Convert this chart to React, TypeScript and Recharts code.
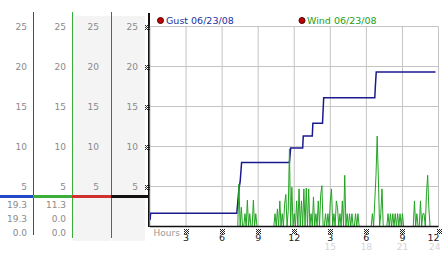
import React from "react";
import { LineChart, Line, XAxis, YAxis, CartesianGrid } from "recharts";

const HOUR_TICKS = [3, 6, 9, 12, 15, 18, 21, 24];
const HOUR_LABELS = ["3", "6", "9", "12", "3", "6", "9", "12"];
const HOUR_LABELS_24 = ["", "", "", "", "15", "18", "21", "24"];
const SPEED_TICKS = [5, 10, 15, 20, 25];
const SIDE_AXES = ["r", "w", "g"];

// gust (step-like running max)
const gustHours = [0, 0.05, 7.22, 7.4, 7.5, 7.62, 11.6, 11.7, 12.7, 12.75, 13.5, 13.55, 14.35, 14.4, 14.45, 18.7, 18.75, 18.82, 23.75];
const gustValues = [0.8, 1.65, 1.65, 4.7, 5.6, 8.0, 8.0, 9.8, 9.8, 11.3, 11.3, 12.9, 12.9, 14.5, 16.1, 16.1, 17.6, 19.3, 19.3];

// wind, one reading every 6 minutes from 00:00
const windValues = [
  0, 0, 0, 0, 0, 0, 0, 0, 0, 0,
  0, 0, 0, 0, 0, 0, 0, 0, 0, 0,
  0, 0, 0, 0, 0, 0, 0, 0, 0, 0,
  0, 0, 0, 0, 0, 0, 0, 0, 0, 0,
  0, 0, 0, 0, 0, 0, 0, 0, 0, 0,
  0, 0, 0, 0, 0, 0, 0, 0, 0, 0,
  0, 0, 0, 0, 0, 0, 0, 0, 0, 0,
  0, 0, 0, 0, 5.3, 0, 2.4, 0, 0, 1.6,
  0, 3.3, 0, 1.6, 0, 0, 3.3, 0, 1.6, 0,
  0, 0, 0, 0, 0, 0, 0, 0, 0, 0,
  0, 0, 0, 0, 1.6, 0, 2.2, 0, 3.2, 0,
  1.6, 0, 2.8, 4.0, 0, 2.0, 9.7, 0, 4.9, 0,
  1.6, 0, 3.2, 0, 4.7, 0, 3.2, 0, 4.7, 0,
  4.8, 0, 4.7, 0, 1.6, 0, 3.7, 0, 1.6, 0,
  3.2, 0, 4.0, 5.1, 0, 0, 1.6, 0, 1.6, 0,
  3.2, 4.7, 0, 1.6, 0, 3.2, 2.4, 0, 1.6, 0,
  3.2, 0, 6.4, 0, 1.6, 0, 1.6, 0, 1.6, 0,
  0, 1.6, 0, 1.6, 0, 0, 0, 0, 0, 0,
  0, 0, 0, 0, 0, 1.6, 0, 3.2, 6.4, 11.3,
  5.8, 0, 1.6, 4.7, 0, 0, 0, 0, 1.6, 0,
  1.6, 0, 1.6, 0, 1.6, 0, 1.6, 0, 1.6, 0,
  1.6, 0, 0, 0, 0, 0, 0, 0, 0, 0,
  3.2, 0, 1.6, 0, 0, 3.2, 0, 1.6, 1.6, 0,
  4.1, 6.4, 2.2, 0, 0, 0, 0,
];

const gustStats = ["19.3", "19.3", "0.0"];
const windStats = ["11.3", "0.0", "0.0"];

const gustData = gustHours.map((h, i) => ({ hour: h, gust: gustValues[i] }));
const windData = windValues.map((v, i) => ({ hour: i / 10, wind: v }));

const FONT = "DejaVu Sans";
const GRAY = "#8a8a8a";
const BLUE = "#2348c8";
const GREEN = "#3aae3a";
const RED = "#d03030";

// little hatched tick mark
const MARK_PIXELS = [
  [0, 0], [2, 0], [4, 0], [1, 1], [3, 1], [0, 2], [2, 2],
  [4, 2], [1, 3], [3, 3], [0, 4], [2, 4], [4, 4],
];

const Mark = ({ x, y }: { x: number; y: number }) => (
  <g fill="#222">
    {MARK_PIXELS.map(([dx, dy], i) => (
      <rect key={i} x={x + dx} y={y + dy} width={1} height={1} />
    ))}
  </g>
);

const SideTick = (props: any) => {
  const { x, y, payload } = props;
  return (
    <text x={x - 12} y={y + 3.5} textAnchor="end" fill={GRAY} fontSize={9} fontFamily={FONT}>
      {payload.value}
    </text>
  );
};

const MainTick = (props: any) => {
  const { x, y, payload } = props;
  return (
    <g>
      <text x={x - 12} y={y + 3.5} textAnchor="end" fill={GRAY} fontSize={9} fontFamily={FONT}>
        {payload.value}
      </text>
      <Mark x={Math.round(x) - 5} y={Math.round(y) - 2} />
    </g>
  );
};

const HourTick = (props: any) => {
  const { x, y, payload } = props;
  const i = HOUR_TICKS.indexOf(payload.value);
  const last = i === HOUR_TICKS.length - 1;
  const cx = Math.round(x);
  return (
    <g>
      <Mark x={cx - 2} y={Math.round(y) + 2} />
      <text x={last ? x + 1 : x} y={y + 14.5} textAnchor={last ? "end" : "middle"} fill="#222" fontSize={9.5} fontFamily={FONT}>
        {HOUR_LABELS[i]}
      </text>
      <text x={last ? x + 2 : x} y={y + 23} textAnchor={last ? "end" : "middle"} fill="#d4d4d4" fontSize={9} fontFamily={FONT}>
        {HOUR_LABELS_24[i]}
      </text>
    </g>
  );
};

function Panel() {
  return (
    <svg width={442} height={253} style={{ position: "absolute", left: 0, top: 0 }}>
      <rect x={73} y={16} width={38} height={225} fill="#f4f4f4" />
      <rect x={112} y={16} width={33} height={225} fill="#f4f4f4" />
      <line x1={33.5} x2={33.5} y1={12} y2={235} stroke={BLUE} />
      <line x1={72.5} x2={72.5} y1={12} y2={238} stroke={GREEN} />
      <line x1={111.5} x2={111.5} y1={12} y2={238} stroke={RED} />
      <line x1={149} x2={149} y1={13} y2={227} stroke="#111" strokeWidth={2} />
      <line x1={0} x2={33} y1={196.5} y2={196.5} stroke={BLUE} strokeWidth={3} />
      <line x1={33} x2={72} y1={196.5} y2={196.5} stroke={GREEN} strokeWidth={3} />
      <line x1={72} x2={111} y1={196.5} y2={196.5} stroke={RED} strokeWidth={3} />
      <line x1={111} x2={150} y1={196.5} y2={196.5} stroke="#111" strokeWidth={3} />
      {gustStats.map((s, i) => (
        <text key={"g" + i} x={27} y={207.5 + i * 14} textAnchor="end" fill={GRAY} fontSize={9} fontFamily={FONT}>
          {s}
        </text>
      ))}
      {windStats.map((s, i) => (
        <text key={"w" + i} x={66} y={207.5 + i * 14} textAnchor="end" fill={GRAY} fontSize={9} fontFamily={FONT}>
          {s}
        </text>
      ))}
      <text x={153.5} y={235.5} fill="#999" fontSize={9} fontFamily={FONT}>
        Hours
      </text>
      <circle cx={160.5} cy={20.5} r={3} fill="#c00000" stroke="#500000" />
      <text x={166} y={24} fill="#2030a0" fontSize={9.5} fontFamily={FONT}>
        Gust 06/23/08
      </text>
      <circle cx={302} cy={20.5} r={3} fill="#c00000" stroke="#500000" />
      <text x={307} y={24} fill="#20a020" fontSize={9.5} fontFamily={FONT}>
        Wind 06/23/08
      </text>
    </svg>
  );
}

export default function App() {
  return (
    <div style={{ position: "absolute", left: 0, top: 0, width: 442, height: 253, background: "#fff" }}>
      <Panel />
      <div style={{ position: "absolute", left: 0, top: 0 }}>
        <LineChart width={442} height={253} margin={{ top: 26.5, right: 3.5, bottom: 0, left: 0 }}>
          <CartesianGrid stroke="#c4c4c4" />
          <XAxis
            dataKey="hour"
            type="number"
            domain={[0, 24]}
            ticks={HOUR_TICKS}
            height={26.5}
            tickLine={false}
            tickSize={0}
            tickMargin={0}
            axisLine={{ stroke: "#111", strokeWidth: 1.5 }}
            tick={<HourTick />}
            interval={0}
            allowDataOverflow
          />
          <YAxis type="number" domain={[0, 25]} ticks={SPEED_TICKS} width={39} axisLine={false} tickLine={false} tickSize={0} tickMargin={0} tick={<MainTick />} interval={0} />
          {SIDE_AXES.map((id) => (
            <YAxis key={id} yAxisId={id} type="number" domain={[0, 25]} ticks={SPEED_TICKS} width={id === "g" ? 33 : 39} axisLine={false} tickLine={false} tickSize={0} tickMargin={0} tick={<SideTick />} interval={0} />
          ))}
          {/* the side scales repeat the main one; give each a silent series so it draws */}
          {SIDE_AXES.map((id) => (
            <Line key={"s" + id} yAxisId={id} data={gustData} dataKey="gust" stroke="none" dot={false} activeDot={false} legendType="none" isAnimationActive={false} />
          ))}
          <Line data={gustData} dataKey="gust" type="linear" stroke="#1a1a8e" strokeWidth={1.5} dot={false} activeDot={false} isAnimationActive={false} />
          <Line data={windData} dataKey="wind" type="linear" stroke="#22a322" strokeWidth={1} dot={false} activeDot={false} isAnimationActive={false} />
        </LineChart>
      </div>
    </div>
  );
}
